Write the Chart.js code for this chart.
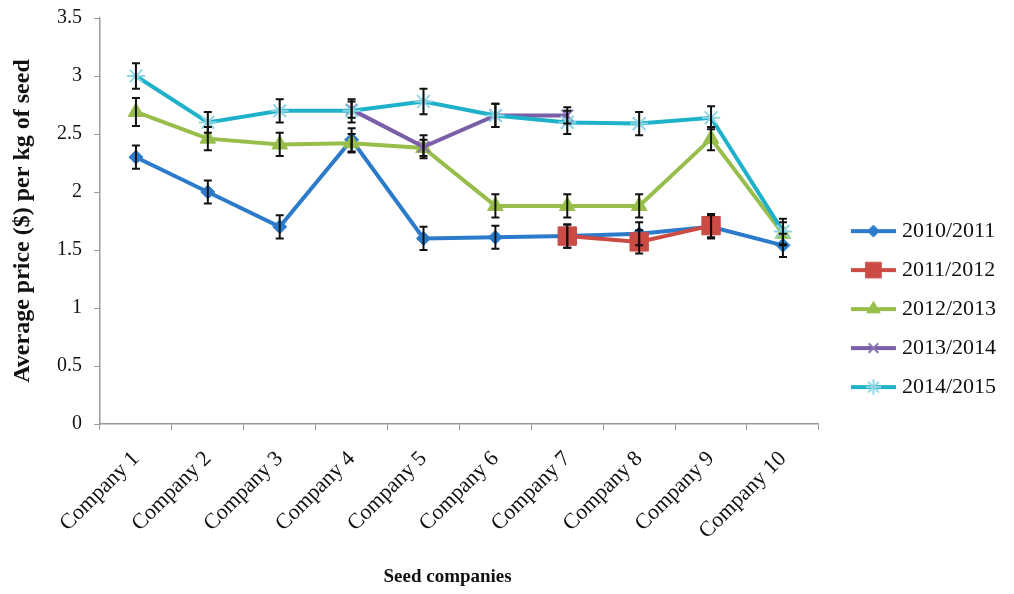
<!DOCTYPE html>
<html>
<head>
<meta charset="utf-8">
<script src="https://cdn.jsdelivr.net/npm/chart.js@4/dist/chart.umd.min.js"></script>
<style>
  html, body { margin: 0; padding: 0; background: #fff; }
  #wrap { width: 1014px; height: 594px; }
</style>
</head>
<body>
<div id="wrap"><canvas id="seedChart" width="1014" height="594"></canvas></div>
<script>
// Seed price chart

const companies = ['Company 1', 'Company 2', 'Company 3', 'Company 4', 'Company 5',
                   'Company 6', 'Company 7', 'Company 8', 'Company 9', 'Company 10'];
const seasons = ['2010/2011', '2011/2012', '2012/2013', '2013/2014', '2014/2015'];

const price2010 = [2.30, 2.00, 1.70, 2.45, 1.60, 1.61, 1.62, 1.64, 1.70, 1.54];
const price2011 = [null, null, null, null, null, null, 1.62, 1.57, 1.71, null];
const price2012 = [2.69, 2.46, 2.41, 2.42, 2.38, 1.88, 1.88, 1.88, 2.46, 1.64];
const price2013 = [null, null, null, 2.71, 2.39, 2.66, 2.66, null, null, null];
const price2014 = [3.00, 2.60, 2.70, 2.70, 2.78, 2.66, 2.60, 2.59, 2.64, 1.66];

// +/- error for each point
const err2010 = [0.10, 0.10, 0.10, 0.10, 0.10, 0.10, 0.10, 0.10, 0.10, 0.10];
const err2011 = [0, 0, 0, 0, 0, 0, 0.10, 0.10, 0.10, 0];
const err2012 = [0.12, 0.10, 0.10, 0.08, 0.07, 0.10, 0.10, 0.10, 0.10, 0.10];
const err2013 = [0, 0, 0, 0.07, 0.10, 0.10, 0.07, 0, 0, 0];
const err2014 = [0.11, 0.09, 0.10, 0.10, 0.11, 0.10, 0.10, 0.10, 0.10, 0.11];

const yTicks = [0, 0.5, 1, 1.5, 2, 2.5, 3, 3.5];

const serif = "'Liberation Serif', 'Times New Roman', serif";

const styles = [
    { color: '#2b7bca', marker: '#2b7bca', pointStyle: 'rectRot', radius: 7, bw: 1 },
    { color: '#cc4b45', marker: '#cc4b45', pointStyle: 'rect', radius: 13, bw: 1 },
    { color: '#97bd4b', marker: '#97bd4b', pointStyle: 'triangle', radius: 9, bw: 1 },
    { color: '#7b5ea8', marker: '#8a73b5', pointStyle: 'crossRot', radius: 8, bw: 2 },
    { color: '#1eb1c9', marker: '#8fd6e4', pointStyle: 'star', radius: 9, bw: 2 }
];
const series = [price2010, price2011, price2012, price2013, price2014];
const errors = [err2010, err2011, err2012, err2013, err2014];

// legend swatch: short line with the marker on it (blank on the left so it sits further right)
function legendSwatch(st) {
    const c = document.createElement('canvas');
    c.width = 73; c.height = 26;
    const g = c.getContext('2d');
    g.strokeStyle = st.color;
    g.lineWidth = 4;
    g.beginPath();
    g.moveTo(24, 13); g.lineTo(69, 13);
    g.stroke();
    g.fillStyle = st.marker;
    g.strokeStyle = st.marker;
    g.lineWidth = st.bw;
    Chart.helpers.drawPoint(g, { pointStyle: st.pointStyle, radius: st.radius * 0.85, rotation: 0, borderWidth: st.bw }, 46.5, 13);
    return c;
}

const datasets = series.map((vals, i) => ({
    label: seasons[i],
    data: vals,
    borderColor: styles[i].color,
    backgroundColor: styles[i].marker,
    pointBackgroundColor: styles[i].marker,
    pointBorderColor: styles[i].marker,
    pointBorderWidth: styles[i].bw,
    pointStyle: styles[i].pointStyle,
    pointRadius: styles[i].radius,
    pointHoverRadius: styles[i].radius,
    borderWidth: 4,
    tension: 0,
    spanGaps: false,
    order: 5 - i,
    swatch: legendSwatch(styles[i])
}));

// black error bars on top of the lines
const errorBars = {
    id: 'errorBars',
    afterDatasetsDraw(chart) {
        const ctx = chart.ctx;
        const yScale = chart.scales.y;
        ctx.save();
        ctx.strokeStyle = '#111';
        ctx.lineWidth = 2;
        chart.data.datasets.forEach((ds, i) => {
            const meta = chart.getDatasetMeta(i);
            ds.data.forEach((v, j) => {
                if (v === null || !errors[i][j]) return;
                const x = meta.data[j].x;
                const top = yScale.getPixelForValue(v + errors[i][j]);
                const bot = yScale.getPixelForValue(v - errors[i][j]);
                ctx.beginPath();
                ctx.moveTo(x, top); ctx.lineTo(x, bot);
                ctx.moveTo(x - 4, top); ctx.lineTo(x + 4, top);
                ctx.moveTo(x - 4, bot); ctx.lineTo(x + 4, bot);
                ctx.stroke();
            });
        });
        ctx.restore();
    }
};

new Chart(document.getElementById('seedChart').getContext('2d'), {
    type: 'line',
    data: { labels: companies, datasets: datasets },
    plugins: [errorBars],
    options: {
        responsive: false,
        animation: false,
        layout: { padding: { top: 18, right: 8, bottom: 0, left: 0 } },
        plugins: {
            tooltip: { enabled: false },
            legend: {
                position: 'right',
                title: { display: true, text: ' ', font: { size: 1 }, padding: { top: 2, bottom: 3 } },
                labels: {
                    usePointStyle: true,
                    pointStyleWidth: 55,
                    padding: 17,
                    color: '#111',
                    font: { family: serif, size: 22 },
                    sort: (a, b) => a.datasetIndex - b.datasetIndex,
                    generateLabels(chart) {
                        return chart.data.datasets.map((ds, i) => ({
                            text: ds.label,
                            pointStyle: ds.swatch,
                            datasetIndex: i,
                            hidden: false,
                            lineWidth: 0,
                            fontColor: '#111'
                        }));
                    }
                }
            }
        },
        scales: {
            x: {
                offset: true,
                afterFit(scale) { scale.height = 170; },
                grid: { display: true, drawOnChartArea: false, offset: true, tickLength: 6, color: '#999' },
                border: { color: '#999', width: 1.5 },
                ticks: {
                    maxRotation: 45, minRotation: 45, padding: 16,
                    color: '#111',
                    font: { family: serif, size: 22 }
                },
                title: {
                    display: true,
                    // trailing spaces nudge the centred title a little left, as in the original
                    text: 'Seed companies     ',
                    color: '#111',
                    font: { family: serif, size: 19, weight: 'bold' },
                    padding: { top: 0, bottom: 6 }
                }
            },
            y: {
                min: 0, max: 3.5,
                afterFit(scale) {
                    scale.width = 100;
                    scale.paddingTop = 0;
                    scale.paddingBottom = 0;
                },
                afterBuildTicks(scale) { scale.ticks = yTicks.map(v => ({ value: v })); },
                grid: { display: true, drawOnChartArea: false, tickLength: 6, color: '#999' },
                border: { color: '#999', width: 1.5 },
                ticks: {
                    padding: 12,
                    color: '#111',
                    font: { family: serif, size: 20 },
                    callback: v => String(v)
                },
                title: {
                    display: true,
                    text: 'Average price ($) per kg of seed',
                    color: '#111',
                    font: { family: serif, size: 24, weight: 'bold' },
                    padding: { top: 8, bottom: 0 }
                }
            }
        }
    }
});
</script>
</body>
</html>
